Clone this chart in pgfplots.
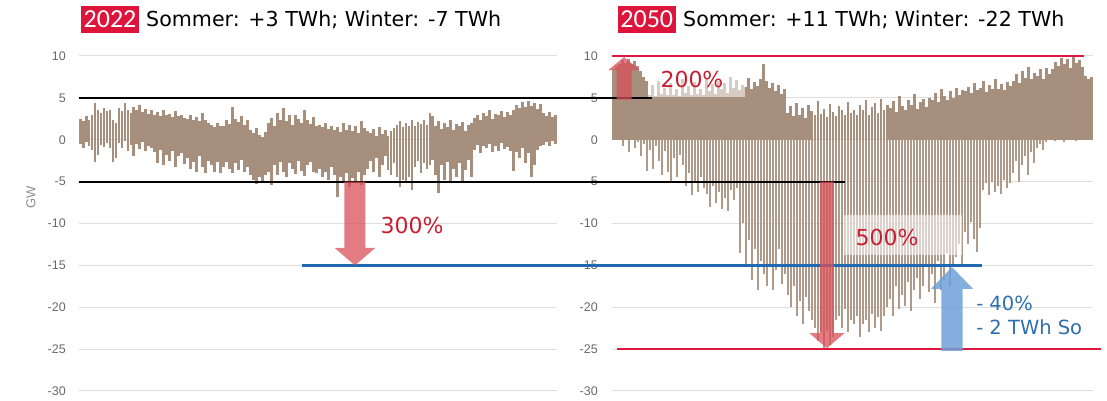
\documentclass[border=0pt]{standalone}
\usepackage{pgfplots}
\pgfplotsset{compat=1.18}
\usepackage{pgfplotstable}
\usepackage{fontspec}
\setmainfont{DejaVu Sans}
\newfontfamily\carl{Carlito}
\newfontfamily\libsans{Liberation Sans}
\definecolor{barbrown}{RGB}{166,143,125}
\definecolor{barlight}{RGB}{176,155,139}
\definecolor{gridgray}{RGB}{222,222,222}
\definecolor{tickgray}{RGB}{105,105,105}
\definecolor{gwgray}{RGB}{140,140,140}
\definecolor{titlered}{RGB}{222,21,59}
\definecolor{redline}{RGB}{220,25,65}
\definecolor{redarrow}{RGB}{218,80,88}
\definecolor{redtxt}{RGB}{200,30,50}
\definecolor{blueline}{RGB}{30,105,175}
\definecolor{bluearrow}{RGB}{110,160,215}
\definecolor{bluetxt}{RGB}{45,110,175}

% 2022: hourly residual load, sampled (GW): up = positive envelope, lo = negative envelope
\pgfplotstableread[row sep=\\]{
up lo\\
2.5 -0.5\\ 2.2 -1.0\\ 2.8 -0.3\\ 2.4 -0.8\\ 3.0 -1.2\\ 4.4 -2.7\\ 3.5 -1.8\\ 3.2 -0.6\\ 3.8 -0.9\\ 3.4 -0.4\\
3.6 -1.0\\ 2.3 -2.7\\ 2.0 -2.2\\ 3.8 -0.4\\ 3.4 -1.0\\ 4.4 -0.2\\ 3.6 -1.3\\ 3.2 -0.6\\ 3.9 -2.0\\ 3.5 -0.5\\
4.2 -1.1\\ 3.3 -0.3\\ 3.7 -1.4\\ 3.1 -0.7\\ 3.5 -1.0\\ 3.0 -1.5\\ 3.3 -2.8\\ 2.8 -1.2\\ 3.5 -3.0\\ 2.9 -1.8\\
3.1 -2.5\\ 2.7 -1.3\\ 3.4 -3.2\\ 2.8 -2.0\\ 3.0 -1.6\\ 2.6 -2.9\\ 2.5 -2.2\\ 2.9 -3.5\\ 2.3 -2.6\\ 2.7 -3.8\\
2.2 -2.0\\ 3.2 -3.3\\ 2.4 -4.0\\ 2.0 -2.5\\ 1.8 -3.0\\ 1.5 -3.8\\ 2.0 -2.6\\ 1.6 -4.0\\ 1.7 -3.2\\ 2.3 -2.6\\
1.9 -3.5\\ 3.9 -4.0\\ 2.5 -2.8\\ 2.1 -3.6\\ 2.8 -2.4\\ 1.8 -3.9\\ 2.4 -3.3\\ 1.2 -4.2\\ 0.8 -4.8\\ 1.4 -5.3\\
0.6 -4.5\\ 0.3 -5.0\\ 0.9 -4.2\\ 2.0 -3.8\\ 2.6 -5.4\\ 1.7 -3.0\\ 3.2 -4.2\\ 2.4 -2.6\\ 3.8 -3.9\\ 2.2 -4.4\\
2.9 -2.8\\ 1.8 -3.5\\ 3.0 -4.1\\ 2.5 -2.5\\ 2.0 -3.7\\ 3.5 -4.3\\ 2.3 -3.0\\ 1.9 -2.6\\ 2.7 -3.8\\ 1.6 -4.0\\
1.8 -3.5\\ 1.5 -4.5\\ 2.0 -3.8\\ 1.3 -4.8\\ 1.7 -3.3\\ 1.2 -4.2\\ 1.5 -6.8\\ 0.9 -4.5\\ 2.0 -5.2\\ 1.2 -4.0\\
1.8 -5.7\\ 1.0 -4.6\\ 1.6 -5.0\\ 0.8 -3.8\\ 2.2 -5.4\\ 1.4 -4.2\\ 1.1 -3.5\\ 0.8 -2.5\\ 1.3 -3.8\\ 0.5 -2.2\\
1.5 -4.4\\ 0.7 -3.0\\ 1.2 -2.0\\ 0.4 -3.6\\ 1.0 -4.2\\ 1.4 -2.8\\ 1.8 -4.5\\ 2.2 -5.6\\ 1.5 -4.8\\ 2.0 -5.2\\
1.7 -4.4\\ 2.3 -6.0\\ 1.6 -3.2\\ 2.1 -2.5\\ 1.9 -4.0\\ 2.4 -2.8\\ 1.8 -3.5\\ 3.2 -3.0\\ 2.8 -2.4\\ 1.6 -4.2\\
2.2 -6.3\\ 1.3 -3.0\\ 2.0 -4.8\\ 1.5 -2.6\\ 2.3 -5.0\\ 1.2 -3.5\\ 1.9 -4.4\\ 1.6 -2.8\\ 2.1 -5.2\\ 1.1 -3.6\\
1.8 -2.4\\ 2.0 -4.5\\ 2.6 -1.2\\ 3.0 -0.6\\ 2.4 -1.6\\ 3.2 -0.8\\ 2.8 -1.0\\ 3.5 -0.5\\ 2.5 -1.5\\ 3.1 -0.7\\
2.9 -1.3\\ 3.4 -0.4\\ 2.7 -1.1\\ 3.3 -0.9\\ 3.0 -1.4\\ 3.6 -3.7\\ 4.2 -1.5\\ 3.8 -2.2\\ 4.5 -1.0\\ 3.9 -2.8\\
4.6 -1.6\\ 4.0 -4.4\\ 4.4 -3.0\\ 3.7 -1.2\\ 4.3 -0.8\\ 3.2 -0.6\\ 2.8 -0.3\\ 3.3 -0.8\\ 2.7 -0.2\\ 2.9 -0.5\\
}\lefttab

% 2050
\pgfplotstableread[row sep=\\]{
up lo\\
8.5 0\\ 8.8 0\\ 9.0 0\\ 9.5 -0.8\\ 9.2 0\\ 9.6 -1.5\\ 9.0 0\\ 9.4 -1.0\\ 8.8 -0.3\\ 8.2 -2.0\\
7.5 -0.5\\ 7.0 -3.7\\ 5.3 -1.2\\ 6.5 -3.5\\ 5.2 -0.8\\ 7.0 -2.5\\ 5.5 -4.2\\ 6.2 -1.3\\ 5.3 -3.8\\ 6.8 -5.0\\
5.4 -2.2\\ 6.0 -4.5\\ 5.2 -1.8\\ 7.2 -3.0\\ 5.6 -5.5\\ 6.4 -4.0\\ 5.3 -6.6\\ 6.9 -5.0\\ 5.5 -6.2\\ 6.1 -4.5\\
5.4 -5.8\\ 7.3 -6.5\\ 5.8 -8.0\\ 6.6 -5.5\\ 5.5 -7.5\\ 7.0 -6.2\\ 6.0 -8.3\\ 6.8 -7.0\\ 5.6 -8.5\\ 7.5 -6.0\\
6.2 -7.2\\ 7.1 -5.8\\ 5.9 -13.5\\ 6.5 -10.0\\ 6.3 -15.2\\ 7.4 -12.0\\ 6.0 -16.8\\ 6.9 -13.0\\ 6.4 -18.0\\ 7.2 -14.5\\
9.1 -16.0\\ 7.0 -17.5\\ 6.2 -14.8\\ 6.8 -18.0\\ 5.8 -15.5\\ 6.5 -13.0\\ 5.5 -17.2\\ 6.0 -16.0\\ 3.2 -18.5\\ 4.0 -20.0\\
2.8 -17.5\\ 4.4 -21.0\\ 3.0 -19.2\\ 3.8 -22.0\\ 2.6 -18.8\\ 4.2 -20.5\\ 3.4 -21.5\\ 2.9 -22.5\\ 4.6 -24.0\\ 3.1 -23.0\\
3.7 -25.0\\ 2.7 -22.8\\ 4.3 -24.5\\ 3.3 -23.5\\ 2.8 -21.5\\ 4.0 -21.0\\ 3.5 -22.5\\ 2.9 -20.2\\ 4.5 -23.0\\ 3.2 -21.5\\
3.6 -22.0\\ 3.0 -21.0\\ 4.2 -23.6\\ 3.5 -22.0\\ 4.8 -21.5\\ 2.9 -23.0\\ 3.9 -20.8\\ 4.4 -22.5\\ 3.2 -21.2\\ 4.9 -22.8\\
3.6 -21.0\\ 4.1 -20.0\\ 3.8 -19.0\\ 4.6 -21.0\\ 3.3 -17.5\\ 5.2 -20.2\\ 4.0 -18.5\\ 3.5 -19.8\\ 4.8 -17.0\\ 4.2 -20.5\\
5.5 -18.0\\ 3.7 -16.5\\ 4.5 -19.0\\ 4.9 -17.5\\ 3.9 -15.0\\ 5.0 -18.2\\ 4.8 -16.0\\ 5.6 -19.5\\ 4.5 -14.5\\ 6.0 -18.0\\
5.2 -16.8\\ 4.7 -13.5\\ 5.8 -17.5\\ 5.0 -15.0\\ 6.2 -14.0\\ 5.4 -12.5\\ 5.9 -15.0\\ 5.8 -11.0\\ 6.3 -12.5\\ 5.6 -9.8\\
6.8 -11.8\\ 5.9 -13.4\\ 6.2 -10.5\\ 7.0 -6.0\\ 5.7 -5.2\\ 6.5 -6.6\\ 6.0 -5.0\\ 7.2 -6.2\\ 6.1 -5.5\\ 6.6 -6.5\\
5.9 -4.8\\ 6.9 -5.8\\ 6.4 -5.2\\ 7.0 -4.0\\ 7.8 -2.5\\ 6.8 -5.0\\ 8.2 -3.0\\ 7.4 -2.0\\ 8.7 -4.2\\ 7.2 -1.5\\
8.0 -2.8\\ 7.6 -1.0\\ 8.4 -0.5\\ 7.3 -1.2\\ 8.6 -0.3\\ 7.9 0\\ 8.5 0\\ 9.3 -0.2\\ 8.8 0\\ 9.8 0\\
9.0 -0.3\\ 9.6 0\\ 8.6 0\\ 9.9 0\\ 9.2 -0.2\\ 9.5 0\\ 8.7 0\\ 7.6 0\\ 7.3 0\\ 7.5 0\\
}\righttab

\pgfplotsset{
  panel/.style={
    scale only axis, height=335pt,
    xmin=-0.5, xmax=159.5, ymin=-30, ymax=10,
    ytick={-30,-25,...,10}, xtick=\empty,
    axis line style={draw=none}, major tick length=0pt,
    ymajorgrids, grid style={gridgray, line width=1pt},
    /pgf/number format/assume math mode=true,
    yticklabel style={font=\libsans\fontsize{12.5}{14}\selectfont, text=tickgray, inner sep=0pt, anchor=east},
    clip=false,
  }
}

\begin{document}
\begin{tikzpicture}
\useasboundingbox (0,0) rectangle (1107pt,401pt);

\begin{axis}[panel, at={(78.6pt,10pt)}, anchor=south west, width=478.4pt,
  yticklabel style={xshift=-12.6pt}]
  \addplot[ycomb, draw=barbrown, line width=2.85pt] table[x expr=\coordindex, y=up] {\lefttab};
  \addplot[ycomb, draw=barbrown, line width=2.85pt] table[x expr=\coordindex, y=lo] {\lefttab};
\end{axis}

\begin{axis}[panel, at={(612pt,10pt)}, anchor=south west, width=481pt,
  yticklabel style={xshift=-14pt}]
  \addplot[ycomb, draw=barbrown, line width=2.85pt] table[x expr=\coordindex, y=up] {\righttab};
  \addplot[ycomb, draw=barlight, line width=2.0pt] table[x expr=\coordindex, y=lo] {\righttab};
  % translucent label boxes
  \fill[white, opacity=0.55] (axis cs:11.5,5.1) rectangle (axis cs:43.7,9.3);
  \fill[white, opacity=0.55] (axis cs:76.7,-9.0) rectangle (axis cs:115.9,-13.8);
  % reference lines
  \draw[black, line width=2pt] (axis cs:-177.9,5) -- (axis cs:12.8,5);
  \draw[black, line width=2pt] (axis cs:-177.9,-5) -- (axis cs:77.0,-5);
  \draw[blueline, line width=2.5pt] (axis cs:-103.6,-15) -- (axis cs:122.6,-15);
  \draw[redline, line width=2pt] (axis cs:-0.5,10) -- (axis cs:156.5,10);
  \draw[redline, line width=2pt] (axis cs:1.2,-25) -- (axis cs:162.2,-25);
  % arrows
  \fill[redarrow, opacity=0.75] (axis cs:-89.49,-5) -- (axis cs:-82.51,-5) -- (axis cs:-82.51,-12.9)
     -- (axis cs:-79.18,-12.9) -- (axis cs:-86,-15) -- (axis cs:-92.82,-12.9) -- (axis cs:-89.49,-12.9) -- cycle;
  \fill[redarrow, opacity=0.75] (axis cs:1.0,4.8) -- (axis cs:6.0,4.8) -- (axis cs:6.0,8.3)
     -- (axis cs:8.8,8.3) -- (axis cs:3.5,9.87) -- (axis cs:-1.8,8.3) -- (axis cs:1.0,8.3) -- cycle;
  \fill[redarrow, opacity=0.75] (axis cs:68.67,-5) -- (axis cs:73.33,-5) -- (axis cs:73.33,-23.1)
     -- (axis cs:76.8,-23.1) -- (axis cs:71.0,-24.9) -- (axis cs:65.2,-23.1) -- (axis cs:68.67,-23.1) -- cycle;
  \fill[bluearrow, opacity=0.85] (axis cs:109.1,-25.2) -- (axis cs:116.1,-25.2) -- (axis cs:116.1,-17.8)
     -- (axis cs:119.6,-17.8) -- (axis cs:112.6,-15.2) -- (axis cs:105.6,-17.8) -- (axis cs:109.1,-17.8) -- cycle;
  % labels
  \node[text=redtxt, font=\fontsize{22}{24}\selectfont, inner sep=0pt] at (axis cs:-67.0,-10.2) {300\%};
  \node[text=redtxt, font=\fontsize{22}{24}\selectfont, inner sep=0pt] at (axis cs:26.1,7.2) {200\%};
  \node[text=redtxt, font=\fontsize{22}{24}\selectfont, inner sep=0pt] at (axis cs:91.0,-11.7) {500\%};
  \node[text=bluetxt, font=\fontsize{19.5}{22}\selectfont, inner sep=0pt, anchor=west] at (axis cs:120.6,-19.6) {- 40\%};
  \node[text=bluetxt, font=\fontsize{19.5}{22}\selectfont, inner sep=0pt, anchor=west] at (axis cs:120.6,-22.4) {- 2 TWh So};
\end{axis}

% titles
\node[fill=titlered, text=white, font=\carl\fontsize{26}{28}\selectfont, minimum width=58pt, minimum height=27pt, inner sep=0pt] at (110pt,381.5pt) {2022};
\node[anchor=base west, inner sep=0pt, font=\fontsize{20.6}{22}\selectfont] at (146pt,374pt) {Sommer: +3 TWh; Winter: -7 TWh};
\node[fill=titlered, text=white, font=\carl\fontsize{26}{28}\selectfont, minimum width=58.5pt, minimum height=27pt, inner sep=0pt] at (646.75pt,381.5pt) {2050};
\node[anchor=base west, inner sep=0pt, font=\fontsize{20.6}{22}\selectfont] at (683pt,374pt) {Sommer: +11 TWh; Winter: -22 TWh};
\node[rotate=90, text=gwgray, font=\libsans\fontsize{13}{15}\selectfont] at (31pt,204pt) {GW};
\end{tikzpicture}
\end{document}
